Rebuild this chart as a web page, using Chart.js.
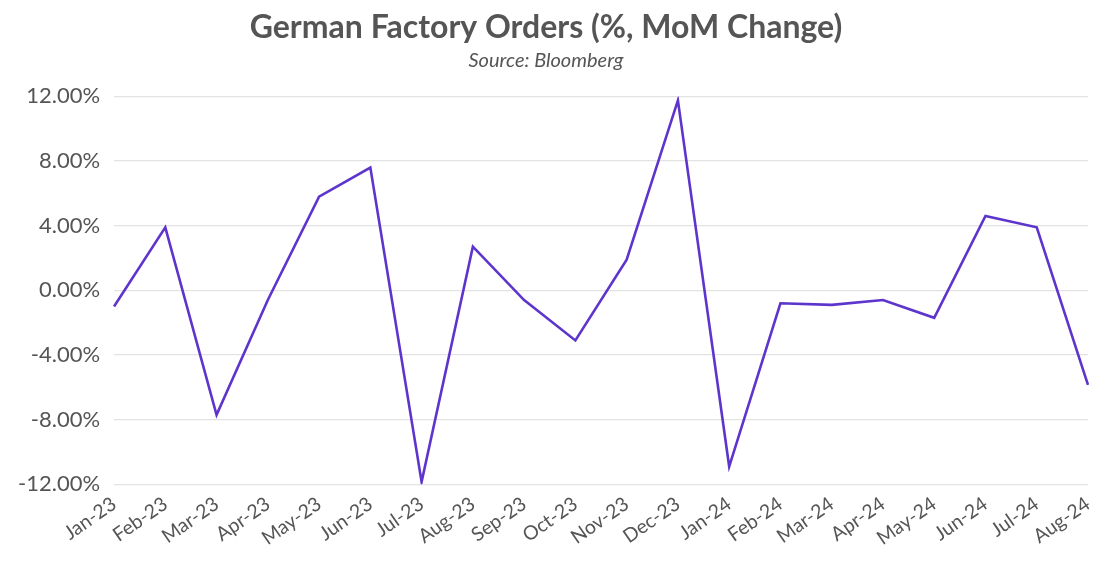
<!DOCTYPE html>
<html>
<head>
<meta charset="utf-8">
<script src="https://cdn.jsdelivr.net/npm/chart.js@4.4.0/dist/chart.umd.min.js"></script>
<style>
html,body{margin:0;padding:0;background:#fff;}
#wrap{width:1120px;height:562px;position:relative;}
</style>
</head>
<body>
<div id="wrap"><canvas id="c"></canvas></div>
<script>
const categories = ["Jan-23","Feb-23","Mar-23","Apr-23","May-23","Jun-23","Jul-23","Aug-23","Sep-23","Oct-23","Nov-23","Dec-23","Jan-24","Feb-24","Mar-24","Apr-24","May-24","Jun-24","Jul-24","Aug-24"];
const momChange = [-1.0, 3.9, -7.7, -0.6, 5.8, 7.6, -11.85, 2.7, -0.6, -3.1, 1.9, 11.75, -10.9, -0.8, -0.9, -0.6, -1.7, 4.6, 3.9, -5.85];
const yTicks = [-12, -8, -4, 0, 4, 8, 12];

const fontFamily = "Lato, 'Open Sans', sans-serif";
new Chart(document.getElementById('c'), {
  type: 'line',
  data: {
    labels: categories,
    datasets: [{
      label: 'German Factory Orders',
      data: momChange,
      borderColor: '#5e35cc',
      borderWidth: 2.6,
      pointRadius: 0,
      tension: 0,
      fill: false
    }]
  },
  options: {
    responsive: true,
    maintainAspectRatio: false,
    animation: false,
    layout: { padding: { left: 4, right: 32, top: 6, bottom: 4 } },
    plugins: {
      legend: { display: false },
      tooltip: { enabled: false },
      title: {
        display: true,
        text: 'German Factory Orders (%, MoM Change)',
        color: '#555555',
        font: { family: fontFamily, size: 32, weight: 'bold' },
        padding: { top: 2, bottom: 0 }
      },
      subtitle: {
        display: true,
        text: 'Source: Bloomberg',
        color: '#555555',
        font: { family: fontFamily, size: 20, style: 'italic' },
        padding: { top: 2, bottom: 24 }
      }
    },
    scales: {
      x: {
        offset: false,
        grid: { display: false, drawTicks: false },
        border: { display: false },
        ticks: {
          color: '#555555',
          font: { family: fontFamily, size: 19.5 },
          maxRotation: 35,
          minRotation: 35,
          padding: 8,
          autoSkip: false
        }
      },
      y: {
        min: -12,
        max: 12,
        afterBuildTicks: (axis) => { axis.ticks = yTicks.map(v => ({ value: v })); },
        grid: { color: '#e3e3e3', lineWidth: 1.2, drawTicks: false },
        border: { display: false },
        ticks: {
          color: '#555555',
          font: { family: fontFamily, size: 22 },
          padding: 14,
          callback: (v) => v.toFixed(2) + '%'
        }
      }
    }
  }
});
</script>
</body>
</html>
